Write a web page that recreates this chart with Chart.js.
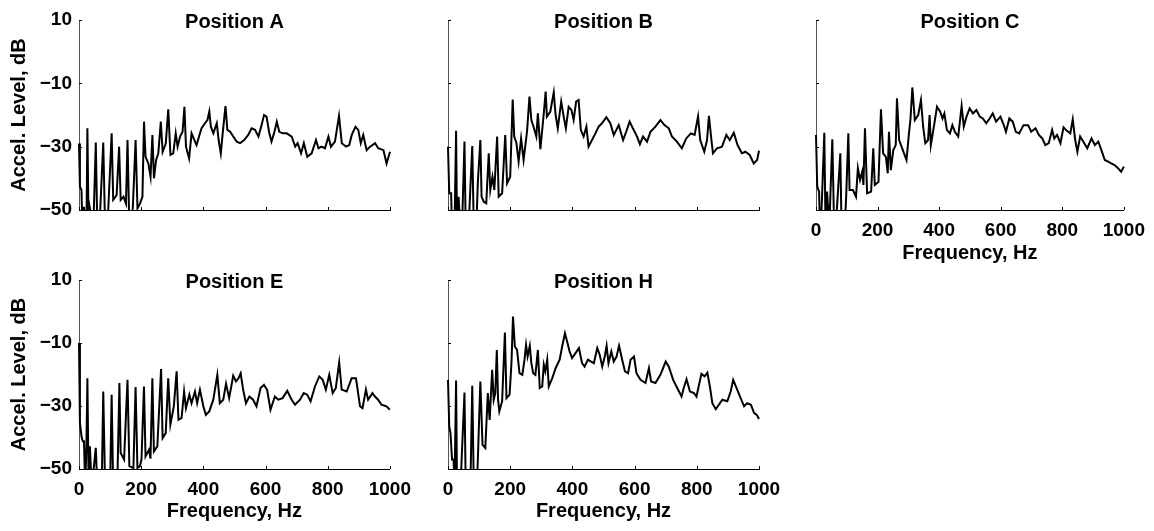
<!DOCTYPE html>
<html>
<head>
<meta charset="utf-8">
<script src="https://cdn.jsdelivr.net/npm/chart.js@4"></script>
<style>
  body { margin: 0; background: #fff; }
  #wrap { position: relative; width: 1154px; height: 531px; overflow: hidden; }
  canvas { position: absolute; }
</style>
</head>
<body>
<div id="wrap">
  <canvas id="posA" width="420" height="240" style="left:0;top:0"></canvas>
  <canvas id="posB" width="400" height="240" style="left:400px;top:0"></canvas>
  <canvas id="posC" width="374" height="270" style="left:780px;top:0"></canvas>
  <canvas id="posE" width="420" height="271" style="left:0;top:260px"></canvas>
  <canvas id="posH" width="400" height="271" style="left:400px;top:260px"></canvas>
</div>
<script>
// spectra (Hz, dB); values under -50 are cut by the axis
const freqA = [0,3,8,11,16,20,24,27,31,35,46,54,59,68,78,84,94,105,110,121,129,134,143,151,156,162,173,182,188,196,204,209,214,223,230,236,241,248,255,263,269,279,287,294,303,311,317,325,333,339,344,354,362,371,378,386,394,405,413,419,424,432,443,449,456,462,471,477,486,496,507,518,531,544,555,566,577,587,595,603,612,619,627,636,644,655,668,684,695,703,714,723,734,748,762,770,780,791,802,810,823,836,845,859,869,877,889,898,906,914,925,936,952,962,979,989,1000];
const levelA = [-29,-42.6,-43.7,-56,-49,-56,-56,-24.2,-56,-49.5,-56,-28.7,-56,-50.5,-28.7,-56,-50,-25.8,-46.8,-45.3,-30,-46.8,-45.8,-48,-27.9,-56,-49.5,-27.9,-49.5,-48,-45.8,-22.1,-33.2,-35.3,-39.5,-26.3,-40,-34.2,-32.1,-22.1,-31.6,-29,-18.2,-32.6,-32.1,-25.8,-30,-26.8,-25.3,-17.4,-30,-33.7,-25.8,-27.9,-29.5,-26.8,-24.2,-22.6,-21.6,-18.9,-23.7,-25.8,-22.6,-27.9,-32.1,-25.8,-17.2,-24.7,-25.3,-26.8,-28.4,-28.9,-27.9,-26.3,-24.2,-24.7,-26.8,-23.2,-20,-20.5,-25.8,-28.4,-25.8,-22.1,-25.3,-25.8,-25.8,-26.8,-30,-28.9,-32.1,-28.9,-33.2,-32.1,-27.9,-30.5,-30,-30.5,-26.8,-30,-28.4,-20.3,-28.9,-30,-29.5,-26.3,-23.7,-24.7,-28.9,-26.3,-31.1,-30,-28.9,-30.5,-31.1,-35.3,-31.6];

const freqB = [0,4,10,13,18,21,26,29,34,40,45,53,57,66,78,83,91,96,104,108,115,123,131,136,143,149,158,163,174,184,190,200,208,213,220,227,235,243,254,262,268,275,284,289,297,308,314,318,329,340,346,353,364,372,379,388,397,404,412,420,427,436,445,452,463,474,484,495,509,522,533,549,563,573,584,597,608,617,627,640,651,667,683,696,710,720,736,752,766,781,793,804,811,824,833,839,847,852,865,881,895,906,919,931,945,956,970,983,994,1000];
const levelB = [-30,-44.7,-44.7,-56,-50,-56,-25,-56,-45.8,-56,-56,-28.4,-56,-56,-29.8,-56,-56,-41.1,-27.9,-45.8,-47.4,-47.9,-32.1,-43.7,-39.5,-43.7,-26.8,-45.8,-44.7,-26.3,-41.6,-39.5,-15.1,-26.8,-28.9,-34.7,-27.4,-34.2,-25.3,-14.2,-21.6,-23.7,-26.8,-19.5,-30.8,-19.5,-12.6,-20.5,-18.9,-12.9,-20,-24.2,-15.8,-20.5,-24.2,-17.4,-18.4,-21.6,-15.8,-15.3,-24.7,-26.8,-23.7,-30,-27.9,-25.8,-23.7,-22.6,-20.7,-22.6,-26.3,-23.2,-27.9,-25.3,-22.1,-24.7,-26.8,-29.2,-26.8,-28.4,-25.3,-23.7,-21.6,-23.2,-24.2,-26.8,-28.4,-30.5,-27.4,-25.8,-26.3,-20.5,-27.9,-31.6,-27.9,-20.3,-27.9,-32.1,-30.5,-30,-26.3,-27.9,-25.6,-29.5,-32.1,-31.6,-32.6,-35.3,-34.2,-31.3];

const freqC = [0,4,10,13,18,27,31,36,43,53,59,68,79,83,93,98,105,109,120,130,136,143,150,154,159,166,179,186,191,203,211,218,227,233,237,243,251,259,263,270,282,294,302,307,313,321,332,341,348,355,364,369,373,382,393,403,411,417,425,435,443,451,462,473,480,489,499,510,521,532,542,553,564,574,585,599,610,617,628,639,649,660,674,689,699,713,724,735,745,756,767,774,783,794,804,815,826,834,842,849,858,868,881,895,906,917,927,938,949,959,970,981,991,1000];
const levelC = [-26.3,-42.6,-44.2,-56,-50,-25.6,-56,-44.2,-56,-27.7,-56,-49.5,-32.1,-56,-56,-45.8,-25.8,-43.7,-43.7,-45.8,-36.8,-40.5,-37.9,-42.1,-24.2,-44.7,-44.2,-30.5,-42.1,-41.1,-18.2,-32.1,-33.2,-38.4,-25.3,-37.4,-31.1,-29.5,-14.7,-27.9,-31.1,-34.2,-25.8,-21.1,-11.3,-21.6,-20,-15.3,-23.7,-28.9,-27.9,-20,-29.5,-24.2,-17.4,-18.9,-21.1,-19.5,-24.7,-25.8,-23.2,-25.3,-26.8,-17.2,-23.7,-20.5,-17.9,-19.5,-18.4,-20.5,-21.1,-22.6,-21.1,-19.5,-22.1,-20.5,-23.2,-25.3,-21.1,-22.1,-25.3,-25.8,-23.2,-23.2,-25.3,-24.2,-26.3,-27.4,-29.5,-28.9,-24.7,-27.4,-26.3,-28.9,-23.9,-25,-25.8,-21.4,-27.9,-31.6,-26.8,-28.4,-30.5,-27.4,-29.5,-28.4,-31.1,-34.2,-34.7,-35.3,-35.8,-36.8,-37.9,-36.3];

const freqE = [0,3,8,12,16,20,24,27,31,35,41,54,59,73,78,84,100,105,110,123,130,134,145,156,162,175,182,188,196,201,209,214,225,230,236,241,252,264,269,279,287,294,305,314,320,330,338,344,355,362,373,380,389,400,408,419,432,445,453,464,473,483,496,505,513,520,528,537,548,560,571,584,595,605,616,630,641,655,670,684,695,711,723,734,745,759,773,784,794,805,816,826,837,845,861,877,891,904,912,923,930,944,952,962,973,989,1000];
const levelE = [-10,-35.4,-39.6,-41.2,-41.2,-56,-41.7,-21.2,-56,-42.8,-56,-43.3,-56,-56,-25.4,-56,-56,-26.4,-56,-56,-22.7,-44.9,-47,-21.7,-49.1,-49.7,-24,-49.7,-49.1,-47,-23.8,-46,-43.9,-46.7,-21.2,-44.4,-42.8,-18.3,-40.2,-38.6,-21.2,-35.9,-30.1,-19,-34.4,-33.8,-25.4,-30.7,-26.4,-29.1,-25.4,-29.1,-24.8,-30.1,-32.8,-31.7,-28,-20.1,-29.1,-28,-22.9,-27.5,-20.4,-22.2,-21.2,-19.6,-24.8,-29.1,-27,-28,-30.1,-24.3,-23.3,-24.8,-31.2,-27,-28,-27.5,-25.2,-28,-29.6,-28,-25.9,-26.4,-28.5,-23.8,-20.6,-21.7,-24.8,-20.1,-25.9,-24.3,-16.2,-24.8,-25.4,-21.2,-21.2,-30.1,-30.7,-24.8,-28,-25.9,-27,-28,-29.6,-30.1,-31.2];

const freqH = [0,4,8,13,18,21,26,29,40,53,57,72,78,83,93,98,104,111,120,128,134,142,147,152,157,161,165,174,183,188,198,204,209,215,222,230,239,246,251,256,263,268,274,281,289,295,303,308,313,319,324,335,346,359,367,376,383,391,399,410,421,431,439,450,460,469,480,488,496,504,510,516,525,533,542,550,560,569,579,587,598,606,619,635,646,653,667,683,700,710,724,737,751,758,767,778,791,799,807,815,825,834,842,850,861,871,882,898,909,917,928,939,952,962,974,984,993,1000];
const levelH = [-21.7,-36.5,-38.6,-47,-47,-56,-21.9,-56,-56,-25.7,-56,-56,-23.6,-56,-56,-40.7,-22.2,-42.3,-43.3,-25.9,-34.4,-18.5,-28,-25.9,-12.2,-28,-31.7,-28.5,-6.7,-27.5,-26.4,-16.4,-1.6,-11.1,-12.2,-19.6,-20.1,-15.3,-10.6,-14.3,-10.9,-16.4,-19.6,-20.1,-12.2,-24.3,-23.8,-16.9,-19,-15.3,-23.8,-21.2,-18,-15.3,-11.1,-6.9,-9.5,-12.7,-14.8,-13.2,-11.6,-16.4,-17.5,-15.3,-15.9,-16.4,-11.6,-13.8,-17.5,-14.3,-10.9,-16.4,-12.7,-15.9,-14.3,-10.9,-15.3,-19,-19.6,-15.3,-14.3,-19.6,-21.7,-22.7,-18,-22.2,-22.7,-20.1,-15.9,-17.5,-21.7,-24.3,-27,-24.3,-21.5,-25.4,-25.9,-27,-23.3,-19.8,-20.6,-19.4,-23.8,-29.1,-31,-29.6,-28,-28.5,-25.4,-21.7,-24.3,-27,-30.1,-29.1,-29.6,-32.2,-32.8,-34.1];

const xTicks = [0, 200, 400, 600, 800, 1000];
const yTicks = [-50, -30, -10, 10];
const xTitle = 'Frequency, Hz';
const yTitle = 'Accel. Level, dB';

const FONT = "'Liberation Sans', Arial, Helvetica, sans-serif";

// MATLAB style: short tick marks pointing into the plot
const inwardTicks = {
    id: 'inwardTicks',
    afterDraw(chart) {
        const { ctx, chartArea, scales } = chart;
        ctx.save();
        ctx.strokeStyle = '#000';
        ctx.lineWidth = 1;
        ctx.beginPath();
        scales.x.ticks.forEach(t => {
            const px = Math.round(scales.x.getPixelForValue(t.value)) + 0.5;
            ctx.moveTo(px, chartArea.bottom);
            ctx.lineTo(px, chartArea.bottom - 3);
        });
        scales.y.ticks.forEach(t => {
            const py = Math.round(scales.y.getPixelForValue(t.value)) + 0.5;
            ctx.moveTo(chartArea.left, py);
            ctx.lineTo(chartArea.left + 3, py);
        });
        ctx.stroke();
        ctx.restore();
    }
};

function minusLabel(v) {
    return v < 0 ? '\u2212' + Math.abs(v) : String(v);
}

function renderPanel(canvasId, title, freqs, levels, o) {
    const ctx = document.getElementById(canvasId);
    const points = freqs.map((f, i) => ({ x: f, y: levels[i] }));

    new Chart(ctx, {
        type: 'line',
        data: {
            datasets: [{
                data: points,
                borderColor: '#000',
                borderWidth: 2,
                pointRadius: 0,
                tension: 0,
                fill: false,
                clip: { left: 1, top: 6, right: 2, bottom: 0 }
            }]
        },
        options: {
            responsive: false,
            animation: false,
            events: [],
            layout: { padding: { left: 0, top: 0, right: o.padRight, bottom: 0 } },
            scales: {
                x: {
                    type: 'linear',
                    min: 0,
                    max: 1000,
                    afterBuildTicks: s => { s.ticks = xTicks.map(v => ({ value: v })); },
                    afterFit: s => { s.height = o.xHeight; },
                    grid: { display: false, drawTicks: false },
                    border: { display: true, color: '#000', width: 1 },
                    ticks: {
                        display: o.xLabels,
                        padding: 9,
                        maxRotation: 0,
                        color: '#000',
                        font: { family: FONT, size: 19, weight: 'bold' },
                        callback: v => String(v)
                    },
                    title: {
                        display: o.xLabels,
                        text: xTitle,
                        color: '#000',
                        font: { family: FONT, size: 20, weight: 'bold' },
                        padding: { top: 0, bottom: o.xTitlePad || 0 }
                    }
                },
                y: {
                    type: 'linear',
                    min: -50,
                    max: 10,
                    afterBuildTicks: s => { s.ticks = yTicks.map(v => ({ value: v })); },
                    afterFit: s => { s.width = o.yWidth; },
                    grid: { display: false, drawTicks: false },
                    border: { display: true, color: '#555', width: 1 },
                    ticks: {
                        display: o.yLabels,
                        padding: 7,
                        color: '#000',
                        font: { family: FONT, size: 19, weight: 'bold' },
                        callback: minusLabel
                    },
                    title: {
                        display: o.yLabels,
                        text: yTitle,
                        color: '#000',
                        font: { family: FONT, size: 20, weight: 'bold' },
                        padding: { top: 7, bottom: 0 }
                    }
                }
            },
            plugins: {
                legend: { display: false },
                tooltip: { enabled: false },
                title: {
                    display: true,
                    text: title,
                    color: '#000',
                    fullSize: false,
                    font: { family: FONT, size: 20, weight: 'bold' },
                    // pulls the plot area up under the title, like the original
                    padding: { top: 10, bottom: -14 }
                }
            }
        },
        plugins: [inwardTicks]
    });
}

renderPanel('posA', 'Position A', freqA, levelA, { yWidth: 79, xHeight: 30, padRight: 30, yLabels: true, xLabels: false });
renderPanel('posB', 'Position B', freqB, levelB, { yWidth: 48, xHeight: 30, padRight: 41, yLabels: false, xLabels: false });
renderPanel('posC', 'Position C', freqC, levelC, { yWidth: 36, xHeight: 60, padRight: 26, yLabels: false, xLabels: true, xTitlePad: 5 });
renderPanel('posE', 'Position E', freqE, levelE, { yWidth: 79, xHeight: 62, padRight: 30, yLabels: true, xLabels: true, xTitlePad: 8 });
renderPanel('posH', 'Position H', freqH, levelH, { yWidth: 48, xHeight: 62, padRight: 41, yLabels: false, xLabels: true, xTitlePad: 8 });
</script>
</body>
</html>
